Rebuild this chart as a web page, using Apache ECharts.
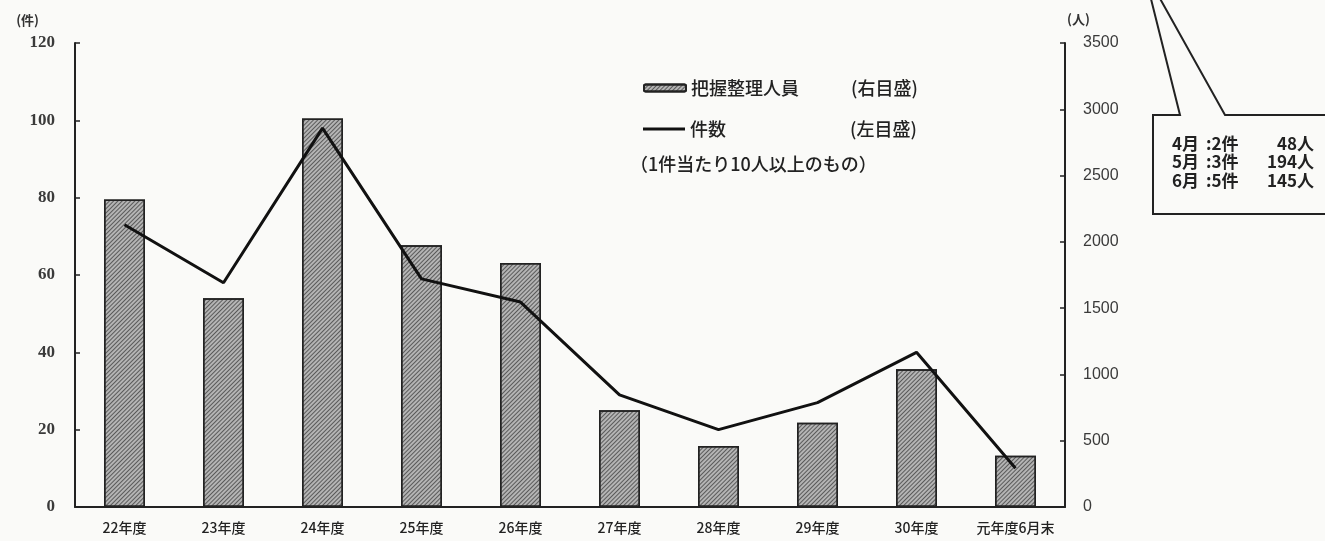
<!DOCTYPE html>
<html>
<head>
<meta charset="utf-8">
<script src="https://cdn.jsdelivr.net/npm/echarts@6/dist/echarts.min.js"></script>
<style>
html,body{margin:0;padding:0;background:#fafaf8;}
#c{width:1325px;height:541px;}
</style>
</head>
<body>
<div id="c"></div>
<script>
// ---- data ----
const categories = ['22年度','23年度','24年度','25年度','26年度','27年度','28年度','29年度','30年度','元年度6月末'];
const peopleValues = [2320, 1575, 2930, 1975, 1840, 730, 460, 635, 1040, 387];   // 把握整理人員 (右目盛)
const caseValues = [73, 58, 98, 59, 53, 29, 20, 27, 40, 10];                        // 件数 (左目盛)
const leftTicks = {min: 0, max: 120, interval: 20};
const rightTicks = {min: 0, max: 3500, interval: 500};
const annotMonths = ['4月','5月','6月'];
const annotCases = [2, 3, 5];
const annotPeople = [48, 194, 145];

const CJK = '"Noto Sans CJK JP", "Noto Sans", sans-serif';
const chart = echarts.init(document.getElementById('c'));

const annotText = annotMonths.map((m, i) =>
  '{m|' + m + '}{c|:' + annotCases[i] + '件}{p|' + annotPeople[i] + '人}').join('\n');

const legendRich = (w) => ({
  a: {width: w, fontFamily: CJK, fontSize: 18, fontWeight: 500, color: '#222'},
  b: {fontFamily: CJK, fontSize: 18, fontWeight: 500, color: '#222'}
});

chart.setOption({
  backgroundColor: '#fafaf8',
  animation: false,
  grid: {left: 75, right: 260, top: 43, bottom: 34},
  xAxis: {
    type: 'category',
    data: categories,
    axisLine: {lineStyle: {color: '#222', width: 2}},
    axisTick: {show: false},
    axisLabel: {margin: 14, fontFamily: CJK, fontSize: 14, fontWeight: 500, color: '#222', interval: 0}
  },
  yAxis: [
    {
      type: 'value', position: 'left',
      min: leftTicks.min, max: leftTicks.max, interval: leftTicks.interval,
      name: '(件)', nameLocation: 'end', nameGap: 16,
      nameTextStyle: {fontFamily: CJK, fontSize: 13, fontWeight: 'bold', color: '#333', align: 'right', padding: [0, 36, 0, 0]},
      axisLine: {show: true, lineStyle: {color: '#222', width: 2}},
      axisTick: {show: true, inside: true, length: 5, lineStyle: {color: '#222', width: 1.5}},
      splitLine: {show: false},
      axisLabel: {margin: 20, fontFamily: '"Liberation Serif", serif', fontSize: 17, fontWeight: 'bold', color: '#3a3a3a'}
    },
    {
      type: 'value', position: 'right',
      min: rightTicks.min, max: rightTicks.max, interval: rightTicks.interval,
      name: '(人)', nameLocation: 'end', nameGap: 17,
      nameTextStyle: {fontFamily: CJK, fontSize: 13, fontWeight: 'bold', color: '#333', align: 'left', padding: [0, 0, 0, 2]},
      axisLine: {show: true, lineStyle: {color: '#222', width: 2}},
      axisTick: {show: true, inside: true, length: 5, lineStyle: {color: '#222', width: 1.5}},
      splitLine: {show: false},
      axisLabel: {margin: 18, fontFamily: '"Liberation Sans", sans-serif', fontSize: 16, color: '#3a3a3a',
        formatter: v => String(v)}
    }
  ],
  legend: [
    {
      data: ['把握整理人員'],
      left: 638, top: 74, itemWidth: 42, itemHeight: 7, itemGap: 0,
      textStyle: {fontFamily: CJK, fontSize: 18, color: '#222', rich: legendRich(160)},
      formatter: n => '{a|' + n + '}{b|(右目盛)}'
    },
    {
      data: [{name: '件数', icon: 'rect', itemStyle: {color: '#111', borderWidth: 0}}],
      left: 638, top: 115, itemWidth: 42, itemHeight: 3, itemGap: 0,
      textStyle: {fontFamily: CJK, fontSize: 18, color: '#222', rich: legendRich(160)},
      formatter: n => '{a|' + n + '}{b|(左目盛)}'
    }
  ],
  graphic: [
    {type: 'text', x: 630, y: 164, style: {text: '（1件当たり10人以上のもの）', font: '500 18px ' + CJK, fill: '#222', verticalAlign: 'middle'}},
    {type: 'polyline', shape: {points: [[1335, 214], [1153, 214], [1153, 115], [1180, 115], [1150, -5]]},
     style: {stroke: '#222', lineWidth: 2, fill: null}},
    {type: 'polyline', shape: {points: [[1158, -5], [1225, 115], [1335, 115]]},
     style: {stroke: '#222', lineWidth: 2, fill: null}},
    {type: 'text', x: 1172, y: 134, style: {text: annotText, lineHeight: 18.5, fill: '#222', verticalAlign: 'top',
      rich: {
        m: {width: 34, font: 'bold 17px ' + CJK, fill: '#222', lineHeight: 18.5},
        c: {width: 44, font: 'bold 17px ' + CJK, fill: '#222', lineHeight: 18.5},
        p: {width: 64, align: 'right', font: 'bold 17px ' + CJK, fill: '#222', lineHeight: 18.5}
      }}}
  ],
  series: [
    {
      name: '把握整理人員', type: 'bar', yAxisIndex: 1, data: peopleValues, barWidth: 41,
      itemStyle: {color: '#b4b4b4', borderColor: '#222', borderWidth: 1.5,
        decal: {symbol: 'rect', symbolSize: 1, dashArrayX: [[1, 0]], dashArrayY: [1, 2], rotation: -Math.PI / 4, color: 'rgba(30,30,30,0.6)'}}
    },
    {
      name: '件数', type: 'line', yAxisIndex: 0, data: caseValues, symbol: 'none',
      lineStyle: {color: '#111', width: 3}, itemStyle: {color: '#111'}, z: 5
    }
  ]
});
</script>
</body>
</html>
